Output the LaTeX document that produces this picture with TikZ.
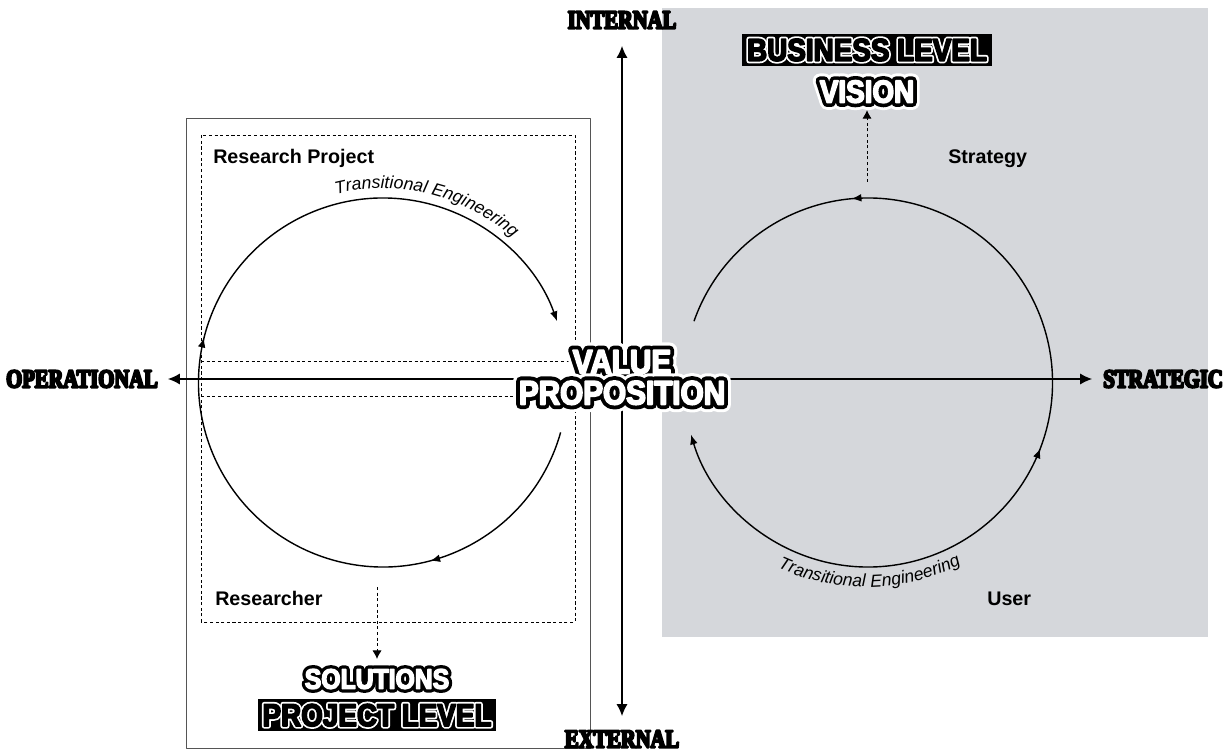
\documentclass[tikz,border=0pt]{standalone}
\usepackage{fontspec}
\setmainfont{Liberation Sans}
\setsansfont{Liberation Sans}
\newfontfamily\blockFill[FakeStretch=0.88,BoldFeatures={FakeBold=5}]{Liberation Sans}
\newfontfamily\blockRim[FakeStretch=0.88,BoldFeatures={FakeBold=16}]{Liberation Sans}
\newfontfamily\blockEdge[FakeStretch=0.88,BoldFeatures={FakeBold=28}]{Liberation Sans}
\newfontfamily\blockHalo[FakeStretch=0.88,BoldFeatures={FakeBold=46}]{Liberation Sans}
\newfontfamily\axisSerif[FakeStretch=0.79,BoldFeatures={FakeBold=8}]{Liberation Serif}
\usetikzlibrary{arrows.meta, positioning, decorations.markings, decorations.text}

\definecolor{panelGray}{RGB}{213,215,219}
\definecolor{frameGray}{RGB}{85,85,85}

\newcommand{\whiteBlock}[1]{\makebox[0pt][l]{\color{white}\blockHalo\bfseries #1}\makebox[0pt][l]{\color{black}\blockEdge\bfseries #1}{\color{white}\blockFill\bfseries #1}}
\newcommand{\blackBlock}[1]{\makebox[0pt][l]{\color{white}\blockRim\bfseries #1}{\color{black}\blockFill\bfseries #1}}
\newcommand{\arcFont}{\sffamily\itshape\fontsize{12.5}{14}\selectfont}

\begin{document}
\begin{tikzpicture}[
    x=0.025cm, y=0.025cm, line join=round,
    smallTip/.tip={Latex[length=7pt,width=5.5pt]}, % small heads on the loops
    axisLine/.style={line width=0.9pt, <->, >={Latex[length=8.5pt,width=8pt]}},
    loopArc/.style={line width=1pt, -{smallTip}},
    midTip/.style={postaction={decorate, decoration={markings, mark=at position #1 with {\arrow{smallTip}}}}},
    midTipBack/.style={postaction={decorate, decoration={markings, mark=at position #1 with {\arrowreversed{smallTip}}}}},
    thinDash/.style={line width=0.6pt, dash pattern=on 2.2pt off 1.8pt},
    dashArrow/.style={thinDash, -{Latex[length=6pt,width=6.5pt]}},
    cornerLabel/.style={font=\sffamily\bfseries\fontsize{14}{16}\selectfont, anchor=base west, inner sep=0pt},
    axisLabel/.style={font=\axisSerif\bfseries\fontsize{18.5}{20}\selectfont, inner sep=0pt},
    blockLabel/.style={inner sep=0pt, align=center},
    blockBox/.style={fill=black, inner xsep=3.5pt, inner ysep=3.3pt},
]
    \useasboundingbox (0,0) rectangle (1227,751);

    % 1. grey business panel, project frame and dashed research box
    \fill[panelGray] (662,114) rectangle (1208,743);
    \draw[line width=0.6pt, frameGray] (186,3) rectangle (590,633);
    \draw[thinDash] (201,129) rectangle (575,616);
    \draw[thinDash] (201,390) -- (575,390);
    \draw[thinDash] (201,355) -- (575,355);

    % 2. the two axes
    \coordinate (axW) at (168,372);
    \coordinate (axE) at (1092,372);
    \coordinate (axN) at (622,705);
    \coordinate (axS) at (622,35);
    \draw[axisLine] (axW) -- (axE);
    \draw[axisLine] (axS) -- (axN);

    % 3. the two loops with their tips
    \coordinate (lc) at (383,368.5);
    \coordinate (rc) at (868,368.5);
    \draw[loopArc, midTip=0.183, midTip=0.549]
        ([shift={(-15.7:184.5)}]lc) arc[start angle=-15.7, end angle=-340.6, radius=184.5];
    \draw[loopArc, midTipBack=0.202, midTipBack=0.56]
        ([shift={(160.6:184.5)}]rc) arc[start angle=160.6, end angle=-163.6, radius=184.5];

    % 4. curved captions
    \path[decorate, decoration={text along path, text align=center,
        text={|\arcFont|Transitional Engineering}}]
        ([shift={(111:194)}]lc) arc[start angle=111, end angle=41, radius=194];
    \coordinate (rtc) at (866,376);
    \path[decorate, decoration={text along path, text align=center,
        text={|\arcFont|Transitional Engineering}}]
        ([shift={(-124:212)}]rtc) arc[start angle=-124, end angle=-54, radius=212];

    % 5. corner labels
    \node[cornerLabel] (resProj) at (213,587) {Research Project};
    \node[cornerLabel] (researcher) at (215,146) {Researcher};
    \node[cornerLabel] (strategy) at (948,587) {Strategy};
    \node[cornerLabel] (user) at (987,146) {User};

    % 6. axis ends
    \node[axisLabel, anchor=east] (operational) at (158,372) {OPERATIONAL};
    \node[axisLabel, anchor=west] (strategic) at (1103,372) {STRATEGIC};
    \node[axisLabel] (internal) at (622,731) {INTERNAL};
    \node[axisLabel] (external) at (622,12) {EXTERNAL};

    % 7. block titles
    \node[blockBox, font=\fontsize{22.5}{24}\selectfont] (busLevel) at (867,701) {\blackBlock{BUSINESS LEVEL}};
    \node[blockLabel, font=\fontsize{22.5}{24}\selectfont, below=10pt of busLevel] (vision) {\whiteBlock{VISION}};
    \node[blockLabel, font=\fontsize{20}{22}\selectfont] (solutions) at (377,72) {\whiteBlock{SOLUTIONS}};
    \node[blockBox, font=\fontsize{22.5}{24}\selectfont, below=7pt of solutions] (projLevel) {\blackBlock{PROJECT LEVEL}};
    \node[blockLabel, font=\fontsize{24}{22}\selectfont] (valueProp) at (622,373.5) {\whiteBlock{VALUE}\\\whiteBlock{PROPOSITION}};

    % 8. dashed hand-offs to the titles
    \coordinate (resOut) at (377,164);
    \coordinate (stratOut) at (867,569);
    \draw[dashArrow, shorten >=7pt] (resOut) -- (solutions.north);
    \draw[dashArrow, shorten >=5pt] (stratOut) -- (vision.south);
\end{tikzpicture}
\end{document}
